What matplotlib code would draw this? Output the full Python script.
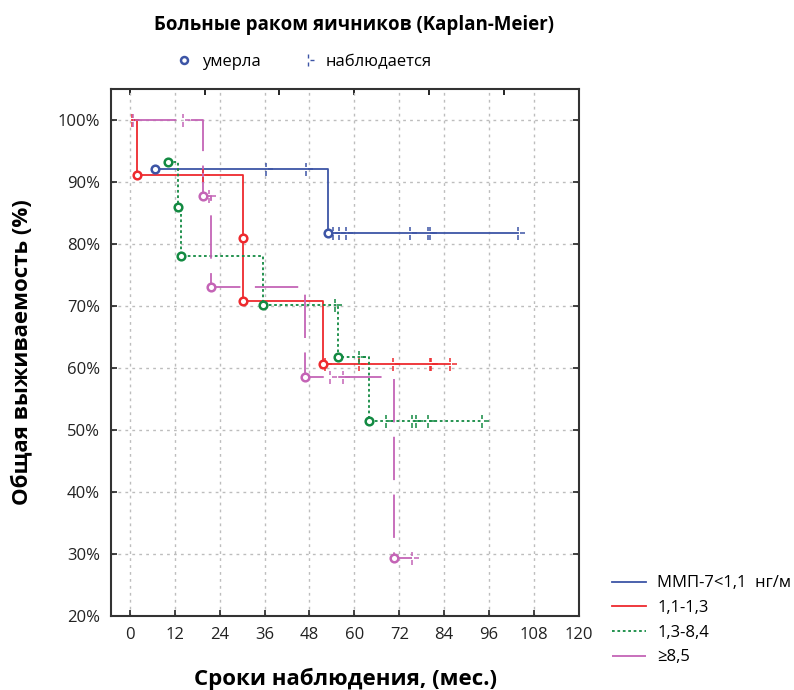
import numpy as np
import matplotlib
matplotlib.use('Agg')
import matplotlib.pyplot as plt
from matplotlib.path import Path
from matplotlib.lines import Line2D

plt.rcParams['font.family'] = ['Open Sans', 'DejaVu Sans']

# groups: times (months), survival (%) after each observation, event flag (1 = died, 0 = censored)
group_names = ['ММП-7<1,1  нг/м', '1,1-1,3', '1,3-8,4', '≥8,5']

blue_t = [6.8, 36.5, 47.2, 52.9, 54.2, 56.0, 57.8, 74.8, 79.7, 80.3, 103.6]
blue_s = [92.1, 92.1, 92.1, 81.8, 81.8, 81.8, 81.8, 81.8, 81.8, 81.8, 81.8]
blue_e = [1, 0, 0, 1, 0, 0, 0, 0, 0, 0, 0]

red_t = [0.5, 2.0, 19.5, 30.2, 30.3, 51.5, 52.2, 61.3, 70.3, 80.1, 80.6, 85.5]
red_s = [100.0, 91.1, 91.1, 81.0, 70.8, 60.7, 60.7, 60.7, 60.7, 60.7, 60.7, 60.7]
red_e = [0, 1, 0, 1, 1, 1, 0, 0, 0, 0, 0, 0]

green_t = [10.2, 13.0, 13.7, 35.6, 54.8, 55.5, 61.2, 63.8, 68.5, 75.4, 76.5, 79.7, 94.0]
green_s = [93.3, 85.9, 78.0, 70.1, 70.1, 61.7, 61.7, 51.4, 51.4, 51.4, 51.4, 51.4, 51.4]
green_e = [1, 1, 1, 1, 0, 1, 0, 1, 0, 0, 0, 0, 0]

pink_t = [0.9, 14.3, 19.6, 21.1, 21.8, 46.9, 53.6, 56.9, 70.6, 75.4]
pink_s = [100.0, 100.0, 87.7, 87.7, 73.1, 58.5, 58.5, 58.5, 29.3, 29.3]
pink_e = [0, 0, 1, 0, 1, 1, 0, 0, 1, 0]

x_ticks = [0, 12, 24, 36, 48, 60, 72, 84, 96, 108, 120]
y_ticks = [20, 30, 40, 50, 60, 70, 80, 90, 100]

colors = ['#3d55a6', '#ee2a2e', '#138a42', '#c464b6']
styles = ['-', '-', (0, (1.5, 1.5)), (0, (24, 8))]

# censored mark: broken vertical tick with a short dash to the right
cens_marker = Path([(0, 0.9), (0, 0.35), (0, -0.25), (0, -1.0), (0.35, 0), (1.0, 0)],
                   [Path.MOVETO, Path.LINETO, Path.MOVETO, Path.LINETO, Path.MOVETO, Path.LINETO])

fig = plt.figure(figsize=(7.94, 6.90), dpi=100)
ax = fig.add_axes([111 / 794, 1 - 616 / 690, 468 / 794, 527 / 690])

groups = [(blue_t, blue_s, blue_e), (red_t, red_s, red_e),
          (green_t, green_s, green_e), (pink_t, pink_s, pink_e)]

for (t, s, e), c, ls in zip(groups, colors, styles):
    t = np.array(t)
    s = np.array(s)
    e = np.array(e)
    ax.step(t, s, where='post', color=c, lw=1.3, ls=ls, zorder=3)
    ax.plot(t[e == 1], s[e == 1], ls='none', marker='o', ms=5.5, mfc='white',
            mec=c, mew=1.8, zorder=5)
    ax.plot(t[e == 0], s[e == 0], ls='none', marker=cens_marker, ms=9.5,
            color=c, mew=1.1, zorder=4)

ax.set_xlim(-5, 120)
ax.set_ylim(20, 105)
ax.set_xticks(x_ticks)
ax.set_yticks(y_ticks)
ax.set_yticklabels([f'{v}%' for v in y_ticks])
ax.tick_params(direction='in', length=4, width=1.2, labelsize=12, pad=8,
               right=True, colors='#222')
ax.grid(True, color='#bdbdbd', ls=(0, (2, 3)), lw=1)
ax.set_axisbelow(True)
for side in ['left', 'right', 'top', 'bottom']:
    ax.spines[side].set_linewidth(1.5)
    ax.spines[side].set_color('#333')

top = ax.secondary_xaxis('top')
top.set_xticks([0, 20, 40, 60, 80, 100, 120])
top.set_xticklabels([])
top.tick_params(direction='in', length=4, width=1.2)
top.spines['top'].set_visible(False)

ax.set_xlabel('Сроки наблюдения, (мес.)', fontsize=16, fontweight='bold', labelpad=18)
ax.set_ylabel('Общая выживаемость (%)', fontsize=16, fontweight='bold', labelpad=18)

fig.text(354 / 794, 1 - 25 / 690, 'Больные раком яичников (Kaplan-Meier)',
         ha='center', va='center', fontsize=13.5, fontweight='bold')

mark_handles = [
    Line2D([], [], ls='none', marker='o', ms=5, mfc='white', mec=colors[0], mew=1.8),
    Line2D([], [], ls='none', marker=cens_marker, ms=9, color=colors[0], mew=1.0),
]
fig.legend(mark_handles, ['умерла', 'наблюдается'], loc='center',
           bbox_to_anchor=(304 / 794, 1 - 62 / 690), ncol=2, frameon=False,
           fontsize=12, handlelength=1.0, columnspacing=2.3, handletextpad=0.6)

line_handles = [Line2D([], [], color=c, lw=1.3, ls=ls) for c, ls in zip(colors, styles)]
fig.legend(line_handles, group_names, loc='upper left',
           bbox_to_anchor=(604 / 794, 1 - 567 / 690), frameon=False,
           fontsize=12, handlelength=2.0, handletextpad=0.7, labelspacing=0.52,
           borderpad=0)

fig.savefig('out.png', dpi=100)
